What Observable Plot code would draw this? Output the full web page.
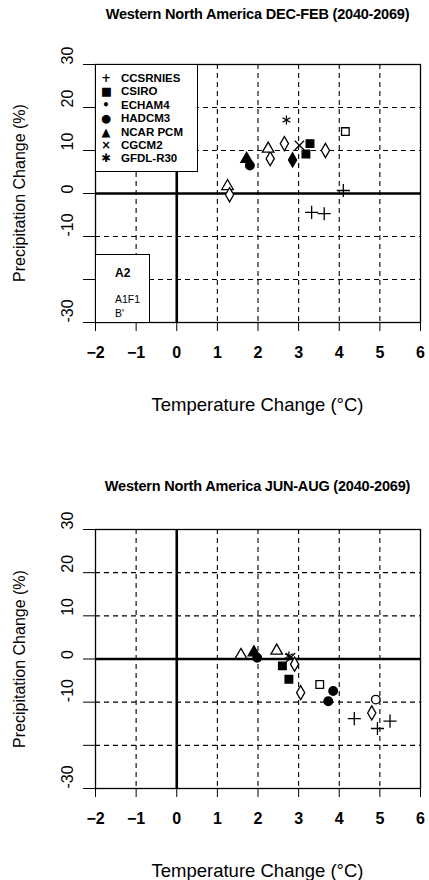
<!DOCTYPE html>
<html><head><meta charset="utf-8">
<script src="https://cdn.jsdelivr.net/npm/d3@7"></script>
<script src="https://cdn.jsdelivr.net/npm/@observablehq/plot@0.6"></script>
<style>
body{margin:0;background:#fff;font-family:"Liberation Sans",Arial,sans-serif;color:#000;}
.panel{position:relative;width:429px;height:440px;overflow:visible;}
.panel svg{position:absolute;left:0;top:0;overflow:visible;}
.ptitle{position:absolute;left:95px;width:325px;text-align:center;font-weight:bold;font-size:14.5px;white-space:nowrap;letter-spacing:-0.2px;}
.xtitle{position:absolute;left:95px;width:325px;text-align:center;font-size:18.5px;white-space:nowrap;}
.ytitle{position:absolute;left:20px;font-size:16px;white-space:nowrap;transform:translate(-50%,-50%) rotate(-90deg);}
.legend{position:absolute;background:#fff;border:1.2px solid #000;box-sizing:border-box;}
.lrow{position:absolute;left:0;font-size:11.5px;font-weight:bold;white-space:nowrap;line-height:12px;color:#000;}
.lsym{position:absolute;left:5px;width:10px;text-align:center;font-family:"DejaVu Sans";}
.ltxt{position:absolute;left:25px;}
</style></head><body>
<div id="p1" class="panel"></div>
<div id="p2" class="panel"></div>
<script>
// ---- data ----
const models = ["CCSRNIES","CSIRO","ECHAM4","HADCM3","NCAR PCM","CGCM2","GFDL-R30"];
const modelSymbols = ["plus","square","diamond","circle","triangle","times","asterisk"];
const legendGlyphs = ["+","■","•","●","▲","×","✱"];
const scenarioLabels = ["A2","A1F1","B'"];

const xTicks = [-2,-1,0,1,2,3,4,5,6];
const yTicks = [-30,-20,-10,0,10,20,30];
const yTickLabels = ["-30","","-10","0","10","20","30"];
const xGrid = [-1,1,2,3,4,5];
const yGrid = [-20,-10,10,20];

// DEC-FEB
const djfModel  = ["CCSRNIES","CCSRNIES","CCSRNIES","CSIRO","CSIRO","CSIRO","ECHAM4","ECHAM4","ECHAM4","ECHAM4","HADCM3","NCAR PCM","NCAR PCM","NCAR PCM","CGCM2","GFDL-R30","ECHAM4"];
const djfTemp   = [4.1, 3.32, 3.63, 3.28, 3.18, 4.15, 2.65, 3.66, 2.85, 2.3, 1.8, 1.72, 2.25, 1.25, 3.02, 2.7, 1.3];
const djfPrecip = [0.7, -4.4, -4.7, 11.6, 9.2, 14.4, 11.6, 10.0, 7.8, 8.1, 6.5, 8.0, 10.4, 1.7, 11.2, 17.1, -0.3];
const djfFilled = [true,false,false,true,true,false,false,false,true,false,true,true,false,false,false,false,false];

// JUN-AUG
const jjaModel  = ["NCAR PCM","NCAR PCM","HADCM3","NCAR PCM","GFDL-R30","CGCM2","CSIRO","CSIRO","ECHAM4","ECHAM4","CSIRO","HADCM3","HADCM3","HADCM3","ECHAM4","CCSRNIES","CCSRNIES","CCSRNIES"];
const jjaTemp   = [1.58, 1.9, 1.98, 2.46, 2.76, 2.8, 2.6, 2.76, 2.9, 3.05, 3.52, 3.85, 3.73, 4.9, 4.8, 4.37, 5.25, 4.94];
const jjaPrecip = [0.9, 1.5, 0.3, 1.9, 0.7, 0.3, -1.6, -4.7, -1.2, -7.8, -5.9, -7.4, -9.8, -9.4, -12.5, -13.8, -14.4, -16.1];
const jjaFilled = [false,true,true,false,false,false,true,true,false,false,false,true,true,false,false,false,false,false];

function table(m, t, p, f){ return m.map((d,i)=>({model:d, temp:t[i], precip:p[i], filled:f[i]})); }

function makePanel(el, title, titleTop, mTop, mBottom, rows, withLegend){
  const H = 440;
  const plot = Plot.plot({
    width: 429, height: H,
    marginTop: mTop, marginBottom: mBottom, marginLeft: 95, marginRight: 9,
    style: {fontFamily: "Liberation Sans, Arial, sans-serif", fontSize: "15px", background: "transparent", overflow: "visible"},
    x: {domain: [-2, 6], ticks: xTicks, tickSize: 9, tickFormat: () => "", label: null},
    y: {domain: [-30, 30], ticks: yTicks, tickSize: 12, tickFormat: () => "", label: null},
    symbol: {domain: models, range: modelSymbols},
    marks: [
      Plot.ruleX(xGrid, {x: d => d, stroke: "#000", strokeWidth: 1.1, strokeDasharray: "5,4"}),
      Plot.ruleY(yGrid, {y: d => d, stroke: "#000", strokeWidth: 1.1, strokeDasharray: "5,4"}),
      Plot.ruleX([0], {x: d => d, stroke: "#000", strokeWidth: 2.6}),
      Plot.ruleY([0], {y: d => d, stroke: "#000", strokeWidth: 2.6}),
      Plot.frame({stroke: "#000", strokeWidth: 1.3}),
      Plot.text(xTicks, {x: d => d, text: d => String(d).replace("-", "\u2212"), frameAnchor: "bottom", dy: 35, fontSize: 16, fontWeight: "bold"}),
      Plot.text(yTicks, {y: d => d, text: (d,i) => yTickLabels[i], frameAnchor: "left", dx: -28, rotate: -90, fontSize: 16}),
      Plot.dot(rows.filter(d => d.filled), {x: "temp", y: "precip", symbol: "model", r: 4.3, fill: "#000", stroke: "#000", strokeWidth: 1.3}),
      Plot.dot(rows.filter(d => !d.filled), {x: "temp", y: "precip", symbol: "model", r: 4.3, fill: "#fff", stroke: "#000", strokeWidth: 1.3})
    ]
  });
  el.appendChild(plot);
  const frameBottom = H - mBottom;
  const t = document.createElement("div"); t.className = "ptitle"; t.style.top = titleTop + "px"; t.textContent = title; el.appendChild(t);
  const xt = document.createElement("div"); xt.className = "xtitle"; xt.style.top = (frameBottom + 72) + "px"; xt.textContent = "Temperature Change (\u00B0C)"; el.appendChild(xt);
  const yt = document.createElement("div"); yt.className = "ytitle"; yt.style.top = ((mTop + frameBottom) / 2) + "px"; yt.textContent = "Precipitation Change (%)"; el.appendChild(yt);
  if (withLegend){
    const lg = document.createElement("div"); lg.className = "legend";
    Object.assign(lg.style, {left: "95px", top: mTop + "px", width: "103px", height: "108px"});
    models.forEach((m, i) => {
      const r = document.createElement("div"); r.className = "lrow"; r.style.top = (7 + i * 13.4) + "px";
      r.innerHTML = `<span class="lsym">${legendGlyphs[i]}</span><span class="ltxt">${m}</span>`;
      lg.appendChild(r);
    });
    el.appendChild(lg);
    const lg2 = document.createElement("div"); lg2.className = "legend";
    Object.assign(lg2.style, {left: "95px", top: (frameBottom - 68) + "px", width: "55px", height: "69px"});
    const tops = [12, 38, 52];
    scenarioLabels.forEach((s, i) => {
      const r = document.createElement("div"); r.className = "lrow";
      Object.assign(r.style, {top: tops[i] + "px", left: "19px", fontWeight: i === 0 ? "bold" : "normal", fontSize: i === 0 ? "12px" : "10.5px"});
      r.textContent = s; lg2.appendChild(r);
    });
    el.appendChild(lg2);
  }
}

makePanel(document.getElementById("p1"), "Western North America DEC-FEB (2040-2069)", 6, 64, 118, table(djfModel, djfTemp, djfPrecip, djfFilled), true);
makePanel(document.getElementById("p2"), "Western North America JUN-AUG (2040-2069)", 38, 89, 92, table(jjaModel, jjaTemp, jjaPrecip, jjaFilled), false);
</script>
</body></html>
